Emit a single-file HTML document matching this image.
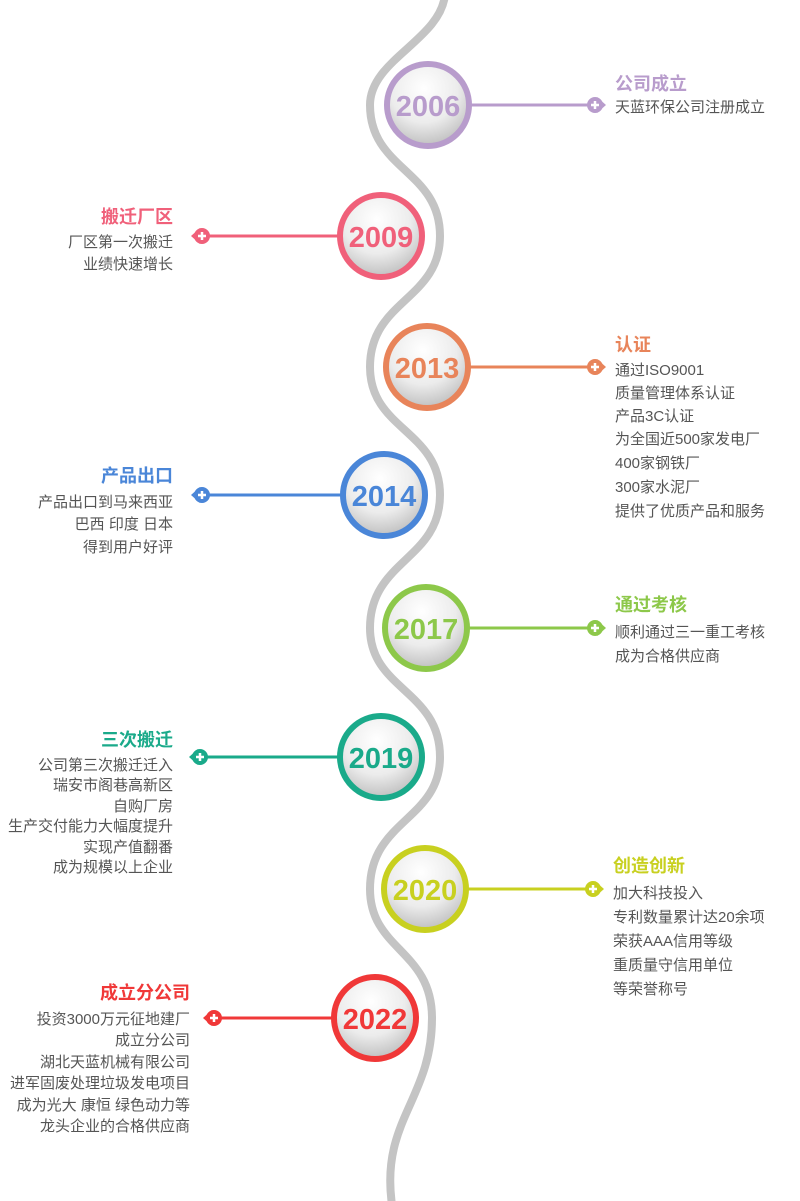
<!DOCTYPE html>
<html><head><meta charset="utf-8"><style>
html,body{margin:0;padding:0;background:#fff;}
svg{display:block;font-family:"Liberation Sans","Noto Sans CJK SC",sans-serif;}
.b{font-size:15px;fill:#555;}
.t{font-size:18px;font-weight:bold;}
.y{font-size:29px;font-weight:bold;text-anchor:middle;}
</style></head><body>
<svg width="800" height="1201" viewBox="0 0 800 1201">
<defs>
<radialGradient id="g" cx="0.45" cy="0.3" r="0.75">
<stop offset="0" stop-color="#ffffff"/><stop offset="0.55" stop-color="#ececec"/><stop offset="1" stop-color="#b8b8b8"/>
</radialGradient>
<g id="mr"><circle cx="0" cy="0" r="8"/><path d="M2 -8 L11 0 L2 8Z"/><path d="M-4 0h8M0 -4v8" stroke="#fff" stroke-width="2.5"/></g>
<g id="ml"><circle cx="0" cy="0" r="8"/><path d="M-2 -8 L-11 0 L-2 8Z"/><path d="M-4 0h8M0 -4v8" stroke="#fff" stroke-width="2.5"/></g>
</defs>
<path d="M445 -5 C440 40 370 60 370 105 C370 170 440 170 440 236 C440 300 370 300 370 367 C370 430 440 430 440 495 C440 560 370 560 370 628 C370 690 440 690 440 757 C440 820 370 820 370 889 C370 950 432 950 432 1018 C432 1100 380 1120 392 1205" fill="none" stroke="#c4c4c4" stroke-width="8"/>

<!-- 2006 -->
<line x1="428" y1="105" x2="595" y2="105" stroke="#b89ccc" stroke-width="3"/>
<circle cx="428" cy="105" r="41" fill="url(#g)" stroke="#b89ccc" stroke-width="6"/>
<text class="y" x="428" y="116" fill="#b89ccc">2006</text>
<use href="#mr" x="595" y="105" fill="#b89ccc"/>
<text class="t" x="615" y="90" fill="#b89ccc">公司成立</text>
<text class="b" x="615" y="112">天蓝环保公司注册成立</text>

<!-- 2009 -->
<line x1="200" y1="236" x2="381" y2="236" stroke="#f0607a" stroke-width="3"/>
<circle cx="381" cy="236" r="41" fill="url(#g)" stroke="#f0607a" stroke-width="6"/>
<text class="y" x="381" y="247" fill="#f0607a">2009</text>
<use href="#ml" x="202" y="236" fill="#f0607a"/>
<g text-anchor="end"><text class="t" x="173" y="223" fill="#f0607a">搬迁厂区</text>
<text class="b" x="173" y="247">厂区第一次搬迁</text><text class="b" x="173" y="269">业绩快速增长</text></g>

<!-- 2013 -->
<line x1="427" y1="367" x2="595" y2="367" stroke="#e8845a" stroke-width="3"/>
<circle cx="427" cy="367" r="41" fill="url(#g)" stroke="#e8845a" stroke-width="6"/>
<text class="y" x="427" y="378" fill="#e8845a">2013</text>
<use href="#mr" x="595" y="367" fill="#e8845a"/>
<text class="t" x="615" y="351" fill="#e8845a">认证</text>
<text class="b" x="615" y="375">通过ISO9001</text><text class="b" x="615" y="398">质量管理体系认证</text><text class="b" x="615" y="421">产品3C认证</text><text class="b" x="615" y="444">为全国近500家发电厂</text><text class="b" x="615" y="468">400家钢铁厂</text><text class="b" x="615" y="492">300家水泥厂</text><text class="b" x="615" y="516">提供了优质产品和服务</text>

<!-- 2014 -->
<line x1="200" y1="495" x2="384" y2="495" stroke="#4a86d8" stroke-width="3"/>
<circle cx="384" cy="495" r="41" fill="url(#g)" stroke="#4a86d8" stroke-width="6"/>
<text class="y" x="384" y="506" fill="#4a86d8">2014</text>
<use href="#ml" x="202" y="495" fill="#4a86d8"/>
<g text-anchor="end"><text class="t" x="173" y="482" fill="#4a86d8">产品出口</text>
<text class="b" x="173" y="507">产品出口到马来西亚</text><text class="b" x="173" y="529">巴西  印度  日本</text><text class="b" x="173" y="552">得到用户好评</text></g>

<!-- 2017 -->
<line x1="426" y1="628" x2="595" y2="628" stroke="#8dc84a" stroke-width="3"/>
<circle cx="426" cy="628" r="41" fill="url(#g)" stroke="#8dc84a" stroke-width="6"/>
<text class="y" x="426" y="639" fill="#8dc84a">2017</text>
<use href="#mr" x="595" y="628" fill="#8dc84a"/>
<text class="t" x="615" y="611" fill="#8dc84a">通过考核</text>
<text class="b" x="615" y="637">顺利通过三一重工考核</text><text class="b" x="615" y="661">成为合格供应商</text>

<!-- 2019 -->
<line x1="200" y1="757" x2="381" y2="757" stroke="#1aaa8a" stroke-width="3"/>
<circle cx="381" cy="757" r="41" fill="url(#g)" stroke="#1aaa8a" stroke-width="6"/>
<text class="y" x="381" y="768" fill="#1aaa8a">2019</text>
<use href="#ml" x="200" y="757" fill="#1aaa8a"/>
<g text-anchor="end"><text class="t" x="173" y="746" fill="#1aaa8a">三次搬迁</text>
<text class="b" x="173" y="770">公司第三次搬迁迁入</text><text class="b" x="173" y="790">瑞安市阁巷高新区</text><text class="b" x="173" y="811">自购厂房</text><text class="b" x="173" y="831">生产交付能力大幅度提升</text><text class="b" x="173" y="852">实现产值翻番</text><text class="b" x="173" y="872">成为规模以上企业</text></g>

<!-- 2020 -->
<line x1="425" y1="889" x2="593" y2="889" stroke="#c8d020" stroke-width="3"/>
<circle cx="425" cy="889" r="41" fill="url(#g)" stroke="#c8d020" stroke-width="6"/>
<text class="y" x="425" y="900" fill="#c8d020">2020</text>
<use href="#mr" x="593" y="889" fill="#c8d020"/>
<text class="t" x="613" y="872" fill="#c8d020">创造创新</text>
<text class="b" x="613" y="898">加大科技投入</text><text class="b" x="613" y="922">专利数量累计达20余项</text><text class="b" x="613" y="946">荣获AAA信用等级</text><text class="b" x="613" y="970">重质量守信用单位</text><text class="b" x="613" y="994">等荣誉称号</text>

<!-- 2022 -->
<line x1="213" y1="1018" x2="375" y2="1018" stroke="#f03838" stroke-width="3"/>
<circle cx="375" cy="1018" r="41" fill="url(#g)" stroke="#f03838" stroke-width="6"/>
<text class="y" x="375" y="1029" fill="#f03838">2022</text>
<use href="#ml" x="214" y="1018" fill="#f03838"/>
<g text-anchor="end"><text class="t" x="190" y="999" fill="#f03838">成立分公司</text>
<text class="b" x="190" y="1024">投资3000万元征地建厂</text><text class="b" x="190" y="1045">成立分公司</text><text class="b" x="190" y="1067">湖北天蓝机械有限公司</text><text class="b" x="190" y="1088">进军固废处理垃圾发电项目</text><text class="b" x="190" y="1110">成为光大 康恒 绿色动力等</text><text class="b" x="190" y="1131">龙头企业的合格供应商</text></g>
</svg>
</body></html>
